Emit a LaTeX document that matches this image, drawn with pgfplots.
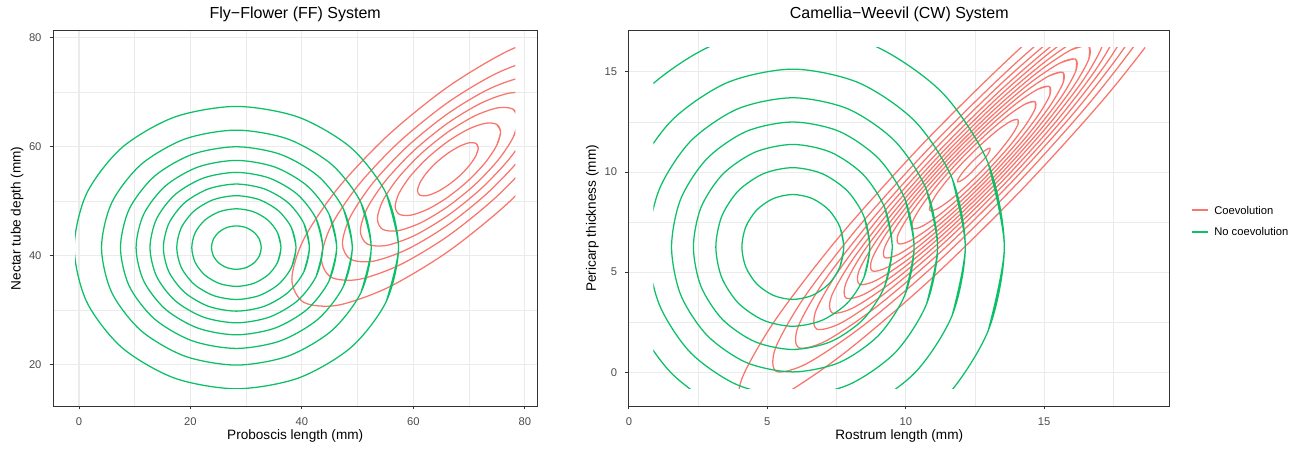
\documentclass[border=0pt]{standalone}
\usepackage{fontspec}
\setmainfont{Liberation Sans}
\usepackage{pgfplots}
\pgfplotsset{compat=1.18}
\definecolor{cred}{HTML}{F8766D}
\definecolor{cgreen}{HTML}{0CC068}
\definecolor{grid92}{gray}{0.92}
\definecolor{grey20}{gray}{0.2}
\definecolor{grey30}{gray}{0.3}
\pgfplotsset{
  outer/.style={
    scale only axis, anchor=south west,
    axis line style={grey20, line width=0.7pt},
    tick style={grey20, line width=0.7pt},
    tick align=outside, major tick length=2.6pt, minor tick length=0pt,
    xtick pos=left, ytick pos=left,
    grid=both,
    major grid style={grid92, line width=0.8pt},
    minor grid style={grid92, line width=0.4pt},
    tick label style={font=\fontsize{8.4}{10}\selectfont, text=grey30},
    xticklabel style={yshift=-2.4pt},
    yticklabel style={anchor=east, xshift=-2.6pt},
    /pgf/number format/assume math mode=true,
    every axis title/.style={at={(0.5,1)}, anchor=base, yshift=9.3pt, font=\fontsize{12}{14}\selectfont},
    every axis x label/.style={at={(0.5,0)}, anchor=base, yshift=-25.1pt, font=\fontsize{10.2}{12}\selectfont},
    every axis y label/.style={rotate=90, anchor=base, font=\fontsize{10.2}{12}\selectfont},
  },
  inner/.style={scale only axis, anchor=south west, hide axis, clip=true},
  rl/.style={color=cred, line width=0.95pt, smooth, forget plot},
  gl/.style={color=cgreen, line width=0.95pt, smooth, forget plot},
}
\begin{document}
\begin{tikzpicture}
\useasboundingbox (0,0) rectangle (979.5pt,337.5pt);
% ---------------- left panel frame ----------------
\begin{axis}[outer, at={(39.83pt,33pt)}, width=363.15pt, height=281.5pt,
  xmin=-4.65, xmax=82.25, ymin=12.37, ymax=81.23,
  xtick={0,20,40,60,80}, ytick={20,40,60,80},
  minor xtick={10,30,50,70}, minor ytick={30,50,70},
  title={Fly−Flower (FF) System},
  xlabel={Proboscis length (mm)}, ylabel={Nectar tube depth (mm)},
  ylabel style={at={(-0.0673,0.5)}}]
\end{axis}
% ---------------- left panel data ----------------
\begin{axis}[inner, at={(56.34pt,45.80pt)}, width=330.14pt, height=255.91pt,
  xmin=-0.7, xmax=78.3, ymin=15.5, ymax=78.1]
% Coevolution
\addplot[rl] coordinates {(92.07,68.64) (94.20,75.96) (92.07,80.21) (86.00,80.75) (76.92,77.48) (66.20,70.92) (55.48,62.06) (46.40,52.24) (40.33,42.96) (38.20,35.64) (40.33,31.39) (46.40,30.85) (55.48,34.12) (66.20,40.68) (76.92,49.54) (86.00,59.36) (92.07,68.64) (94.20,75.96) (92.07,80.21)};
\addplot[rl] coordinates {(87.17,66.21) (88.90,72.14) (87.17,75.59) (82.25,76.02) (74.89,73.38) (66.20,68.06) (57.51,60.87) (50.15,52.91) (45.23,45.39) (43.50,39.46) (45.23,36.01) (50.15,35.58) (57.51,38.22) (66.20,43.54) (74.89,50.73) (82.25,58.69) (87.17,66.21) (88.90,72.14) (87.17,75.59)};
\addplot[rl] coordinates {(83.69,64.48) (85.13,69.43) (83.69,72.31) (79.59,72.67) (73.44,70.46) (66.20,66.02) (58.96,60.03) (52.82,53.39) (48.71,47.12) (47.27,42.17) (48.71,39.30) (52.82,38.94) (58.96,41.14) (66.20,45.58) (73.44,51.57) (79.59,58.21) (83.69,64.48) (85.13,69.43) (83.69,72.31)};
\addplot[rl] coordinates {(80.71,63.00) (81.90,67.10) (80.71,69.49) (77.30,69.79) (72.21,67.96) (66.20,64.28) (60.19,59.31) (55.10,53.80) (51.69,48.60) (50.50,44.50) (51.69,42.11) (55.10,41.81) (60.19,43.64) (66.20,47.32) (72.21,52.29) (77.30,57.80) (80.71,63.00) (81.90,67.10) (80.71,69.49)};
\addplot[rl] coordinates {(77.89,61.60) (78.85,64.91) (77.89,66.83) (75.15,67.07) (71.04,65.60) (66.20,62.63) (61.36,58.63) (57.26,54.19) (54.51,50.00) (53.55,46.69) (54.51,44.77) (57.26,44.53) (61.36,46.00) (66.20,48.97) (71.04,52.97) (75.15,57.41) (77.89,61.60) (78.85,64.91) (77.89,66.83)};
\addplot[rl] coordinates {(74.94,60.14) (75.66,62.61) (74.94,64.05) (72.89,64.23) (69.82,63.13) (66.20,60.91) (62.58,57.91) (59.51,54.60) (57.46,51.46) (56.74,48.99) (57.46,47.55) (59.51,47.37) (62.58,48.47) (66.20,50.69) (69.82,53.69) (72.89,57.00) (74.94,60.14) (75.66,62.61) (74.94,64.05)};
\addplot[rl] coordinates {(71.24,58.30) (71.65,59.72) (71.24,60.55) (70.05,60.66) (68.29,60.02) (66.20,58.74) (64.11,57.02) (62.35,55.11) (61.17,53.30) (60.75,51.88) (61.17,51.05) (62.35,50.95) (64.11,51.58) (66.20,52.86) (68.29,54.58) (70.05,56.49) (71.24,58.30) (71.65,59.72) (71.24,60.55)};
% No coevolution
\addplot[gl] coordinates {(55.13,31.52) (57.34,41.43) (55.13,51.34) (48.82,59.74) (39.38,65.36) (28.24,67.33) (17.10,65.36) (7.66,59.74) (1.36,51.34) (-0.86,41.43) (1.36,31.52) (7.66,23.12) (17.10,17.50) (28.24,15.53) (39.38,17.50) (48.82,23.12) (55.13,31.52) (57.34,41.43) (55.13,51.34)};
\addplot[gl] coordinates {(50.60,33.18) (52.44,41.43) (50.60,49.68) (45.35,56.67) (37.50,61.34) (28.24,62.98) (18.98,61.34) (11.13,56.67) (5.88,49.68) (4.04,41.43) (5.88,33.18) (11.13,26.19) (18.98,21.52) (28.24,19.88) (37.50,21.52) (45.35,26.19) (50.60,33.18) (52.44,41.43) (50.60,49.68)};
\addplot[gl] coordinates {(47.46,34.35) (49.04,41.43) (47.46,48.51) (42.95,54.51) (36.20,58.52) (28.24,59.93) (20.28,58.52) (13.53,54.51) (9.02,48.51) (7.44,41.43) (9.02,34.35) (13.53,28.35) (20.28,24.34) (28.24,22.93) (36.20,24.34) (42.95,28.35) (47.46,34.35) (49.04,41.43) (47.46,48.51)};
\addplot[gl] coordinates {(44.87,35.31) (46.24,41.43) (44.87,47.55) (40.97,52.74) (35.13,56.21) (28.24,57.43) (21.35,56.21) (15.51,52.74) (11.61,47.55) (10.24,41.43) (11.61,35.31) (15.51,30.12) (21.35,26.65) (28.24,25.43) (35.13,26.65) (40.97,30.12) (44.87,35.31) (46.24,41.43) (44.87,47.55)};
\addplot[gl] coordinates {(42.56,36.15) (43.74,41.43) (42.56,46.71) (39.20,51.19) (34.17,54.18) (28.24,55.23) (22.31,54.18) (17.28,51.19) (13.92,46.71) (12.74,41.43) (13.92,36.15) (17.28,31.67) (22.31,28.68) (28.24,27.63) (34.17,28.68) (39.20,31.67) (42.56,36.15) (43.74,41.43) (42.56,46.71)};
\addplot[gl] coordinates {(40.34,36.97) (41.34,41.43) (40.34,45.89) (37.50,49.68) (33.25,52.20) (28.24,53.09) (23.23,52.20) (18.98,49.68) (16.14,45.89) (15.14,41.43) (16.14,36.97) (18.98,33.19) (23.23,30.66) (28.24,29.77) (33.25,30.66) (37.50,33.19) (40.34,36.97) (41.34,41.43) (40.34,45.89)};
\addplot[gl] coordinates {(38.13,37.79) (38.94,41.43) (38.13,45.07) (35.81,48.16) (32.34,50.23) (28.24,50.95) (24.15,50.23) (20.67,48.16) (18.35,45.07) (17.54,41.43) (18.35,37.79) (20.67,34.70) (24.15,32.63) (28.24,31.91) (32.34,32.63) (35.81,34.70) (38.13,37.79) (38.94,41.43) (38.13,45.07)};
\addplot[gl] coordinates {(35.63,38.70) (36.24,41.43) (35.63,44.16) (33.90,46.47) (31.30,48.01) (28.24,48.55) (25.18,48.01) (22.58,46.47) (20.85,44.16) (20.24,41.43) (20.85,38.70) (22.58,36.40) (25.18,34.85) (28.24,34.31) (31.30,34.85) (33.90,36.40) (35.63,38.70) (36.24,41.43) (35.63,44.16)};
\addplot[gl] coordinates {(32.37,39.91) (32.71,41.43) (32.37,42.95) (31.40,44.24) (29.95,45.11) (28.24,45.41) (26.53,45.11) (25.08,44.24) (24.11,42.95) (23.77,41.43) (24.11,39.91) (25.08,38.62) (26.53,37.75) (28.24,37.45) (29.95,37.75) (31.40,38.62) (32.37,39.91) (32.71,41.43) (32.37,42.95)};
\end{axis}
% ---------------- right panel frame (with legend keys) ----------------
\begin{axis}[outer, at={(471.5pt,33pt)}, width=405.9pt, height=281.5pt,
  xmin=-0.0085, xmax=19.5385, ymin=-1.682, ymax=17.062, clip=false,
  xtick={0,5,10,15}, ytick={0,5,10,15},
  minor xtick={2.5,7.5,12.5,17.5}, minor ytick={2.5,7.5,12.5},
  title={Camellia−Weevil (CW) System},
  xlabel={Rostrum length (mm)}, ylabel={Pericarp thickness (mm)},
  ylabel style={at={(-0.0604,0.5)}}]
\addplot[color=cred, line width=0.95pt, forget plot] coordinates {(20.338,8.106) (20.916,8.106)};
\addplot[color=cgreen, line width=0.95pt, forget plot] coordinates {(20.338,7.008) (20.916,7.008)};
\node[anchor=west, inner sep=0pt, font=\fontsize{8.4}{10}\selectfont] at (axis cs:21.133,8.106) {Coevolution};
\node[anchor=west, inner sep=0pt, font=\fontsize{8.4}{10}\selectfont] at (axis cs:21.133,7.008) {No coevolution};
\end{axis}
% ---------------- right panel data ----------------
\begin{axis}[inner, at={(489.95pt,45.80pt)}, width=369.0pt, height=255.91pt,
  xmin=0.88, xmax=18.65, ymin=-0.83, ymax=16.21]
% Coevolution
\addplot[rl] coordinates {(20.84,21.02) (20.81,22.40) (19.51,21.95) (17.13,19.73) (14.05,16.08) (10.72,11.56) (7.65,6.86) (5.32,2.68) (4.08,-0.32) (4.11,-1.70) (5.41,-1.25) (7.79,0.97) (10.88,4.62) (14.20,9.14) (17.27,13.84) (19.60,18.02) (20.84,21.02) (20.81,22.40) (19.51,21.95)};
\addplot[rl] coordinates {(19.63,19.47) (19.60,20.65) (18.49,20.26) (16.45,18.36) (13.82,15.25) (10.97,11.38) (8.35,7.36) (6.36,3.80) (5.30,1.23) (5.32,0.05) (6.43,0.44) (8.47,2.34) (11.11,5.45) (13.95,9.32) (16.57,13.34) (18.56,16.90) (19.63,19.47) (19.60,20.65) (18.49,20.26)};
\addplot[rl] coordinates {(18.81,18.43) (18.79,19.47) (17.80,19.13) (16.00,17.45) (13.66,14.69) (11.14,11.27) (8.82,7.70) (7.05,4.55) (6.11,2.27) (6.13,1.23) (7.12,1.57) (8.92,3.25) (11.26,6.01) (13.78,9.44) (16.10,13.00) (17.87,16.16) (18.81,18.43) (18.79,19.47) (17.80,19.13)};
\addplot[rl] coordinates {(18.16,17.60) (18.14,18.54) (17.25,18.23) (15.64,16.72) (13.54,14.24) (11.28,11.17) (9.19,7.98) (7.61,5.14) (6.76,3.10) (6.78,2.16) (7.67,2.47) (9.28,3.98) (11.38,6.46) (13.65,9.53) (15.73,12.73) (17.31,15.56) (18.16,17.60) (18.14,18.54) (17.25,18.23)};
\addplot[rl] coordinates {(17.60,16.89) (17.58,17.73) (16.78,17.46) (15.32,16.10) (13.43,13.86) (11.39,11.09) (9.52,8.21) (8.09,5.65) (7.32,3.81) (7.34,2.97) (8.14,3.25) (9.60,4.61) (11.49,6.84) (13.53,9.61) (15.41,12.49) (16.83,15.05) (17.60,16.89) (17.58,17.73) (16.78,17.46)};
\addplot[rl] coordinates {(17.08,16.24) (17.07,17.00) (16.35,16.75) (15.04,15.52) (13.33,13.51) (11.50,11.02) (9.81,8.42) (8.52,6.12) (7.84,4.46) (7.85,3.70) (8.57,3.95) (9.88,5.18) (11.59,7.19) (13.42,9.68) (15.11,12.28) (16.40,14.58) (17.08,16.24) (17.07,17.00) (16.35,16.75)};
\addplot[rl] coordinates {(16.61,15.63) (16.59,16.31) (15.95,16.09) (14.77,14.99) (13.24,13.18) (11.60,10.95) (10.08,8.62) (8.93,6.56) (8.31,5.07) (8.33,4.39) (8.97,4.62) (10.15,5.71) (11.68,7.52) (13.32,9.75) (14.84,12.08) (15.99,14.14) (16.61,15.63) (16.59,16.31) (15.95,16.09)};
\addplot[rl] coordinates {(16.14,15.04) (16.13,15.64) (15.56,15.44) (14.51,14.47) (13.16,12.87) (11.69,10.88) (10.35,8.82) (9.32,6.98) (8.78,5.66) (8.79,5.06) (9.36,5.26) (10.41,6.23) (11.76,7.83) (13.23,9.82) (14.57,11.88) (15.60,13.72) (16.14,15.04) (16.13,15.64) (15.56,15.44)};
\addplot[rl] coordinates {(15.68,14.45) (15.67,14.98) (15.17,14.80) (14.25,13.95) (13.07,12.55) (11.79,10.81) (10.61,9.01) (9.72,7.41) (9.24,6.25) (9.25,5.72) (9.75,5.90) (10.67,6.75) (11.85,8.15) (13.13,9.89) (14.31,11.69) (15.20,13.29) (15.68,14.45) (15.67,14.98) (15.17,14.80)};
\addplot[rl] coordinates {(15.20,13.83) (15.18,14.28) (14.76,14.13) (13.98,13.41) (12.98,12.22) (11.89,10.74) (10.89,9.21) (10.13,7.85) (9.72,6.87) (9.74,6.42) (10.16,6.57) (10.94,7.29) (11.94,8.48) (13.03,9.96) (14.03,11.49) (14.79,12.85) (15.20,13.83) (15.18,14.28) (14.76,14.13)};
\addplot[rl] coordinates {(14.67,13.16) (14.66,13.52) (14.32,13.40) (13.69,12.82) (12.88,11.86) (12.00,10.67) (11.19,9.43) (10.58,8.33) (10.25,7.54) (10.26,7.18) (10.60,7.30) (11.23,7.88) (12.04,8.84) (12.92,10.03) (13.73,11.27) (14.34,12.37) (14.67,13.16) (14.66,13.52) (14.32,13.40)};
\addplot[rl] coordinates {(14.05,12.37) (14.04,12.63) (13.79,12.54) (13.34,12.12) (12.76,11.43) (12.13,10.58) (11.55,9.69) (11.11,8.90) (10.88,8.33) (10.88,8.07) (11.13,8.16) (11.58,8.58) (12.16,9.27) (12.79,10.12) (13.37,11.01) (13.81,11.80) (14.05,12.37) (14.04,12.63) (13.79,12.54)};
\addplot[rl] coordinates {(13.04,11.09) (13.04,11.19) (12.95,11.15) (12.78,11.00) (12.57,10.75) (12.34,10.43) (12.13,10.11) (11.97,9.82) (11.88,9.61) (11.88,9.51) (11.97,9.55) (12.14,9.70) (12.35,9.95) (12.56,10.27) (12.79,10.59) (12.96,10.88) (13.04,11.09) (13.04,11.19) (12.95,11.15)};
% No coevolution
\addplot[gl] coordinates {(12.98,2.09) (13.56,6.26) (12.98,10.43) (11.32,13.96) (8.84,16.32) (5.92,17.15) (3.00,16.32) (0.52,13.96) (-1.14,10.43) (-1.72,6.26) (-1.14,2.09) (0.52,-1.44) (3.00,-3.80) (5.92,-4.63) (8.84,-3.80) (11.32,-1.44) (12.98,2.09) (13.56,6.26) (12.98,10.43)};
\addplot[gl] coordinates {(11.68,2.86) (12.15,6.26) (11.68,9.66) (10.33,12.54) (8.30,14.46) (5.92,15.14) (3.54,14.46) (1.52,12.54) (0.16,9.66) (-0.31,6.26) (0.16,2.86) (1.52,-0.02) (3.54,-1.94) (5.92,-2.62) (8.30,-1.94) (10.33,-0.02) (11.68,2.86) (12.15,6.26) (11.68,9.66)};
\addplot[gl] coordinates {(10.75,3.41) (11.15,6.26) (10.75,9.11) (9.62,11.53) (7.92,13.15) (5.92,13.71) (3.92,13.15) (2.22,11.53) (1.09,9.11) (0.69,6.26) (1.09,3.41) (2.22,0.99) (3.92,-0.63) (5.92,-1.19) (7.92,-0.63) (9.62,0.99) (10.75,3.41) (11.15,6.26) (10.75,9.11)};
\addplot[gl] coordinates {(9.97,3.87) (10.30,6.26) (9.97,8.65) (9.02,10.67) (7.60,12.03) (5.92,12.50) (4.24,12.03) (2.82,10.67) (1.87,8.65) (1.54,6.26) (1.87,3.87) (2.82,1.85) (4.24,0.49) (5.92,0.02) (7.60,0.49) (9.02,1.85) (9.97,3.87) (10.30,6.26) (9.97,8.65)};
\addplot[gl] coordinates {(9.24,4.30) (9.51,6.26) (9.24,8.22) (8.46,9.88) (7.29,10.99) (5.92,11.38) (4.55,10.99) (3.38,9.88) (2.60,8.22) (2.33,6.26) (2.60,4.30) (3.38,2.64) (4.55,1.53) (5.92,1.14) (7.29,1.53) (8.46,2.64) (9.24,4.30) (9.51,6.26) (9.24,8.22)};
\addplot[gl] coordinates {(8.49,4.74) (8.70,6.26) (8.49,7.78) (7.89,9.06) (6.98,9.92) (5.92,10.22) (4.86,9.92) (3.95,9.06) (3.35,7.78) (3.14,6.26) (3.35,4.74) (3.95,3.46) (4.86,2.60) (5.92,2.30) (6.98,2.60) (7.89,3.46) (8.49,4.74) (8.70,6.26) (8.49,7.78)};
\addplot[gl] coordinates {(7.62,5.26) (7.76,6.26) (7.62,7.26) (7.22,8.11) (6.62,8.68) (5.92,8.88) (5.22,8.68) (4.62,8.11) (4.22,7.26) (4.08,6.26) (4.22,5.26) (4.62,4.41) (5.22,3.84) (5.92,3.64) (6.62,3.84) (7.22,4.41) (7.62,5.26) (7.76,6.26) (7.62,7.26)};
\end{axis}
\end{tikzpicture}
\end{document}
